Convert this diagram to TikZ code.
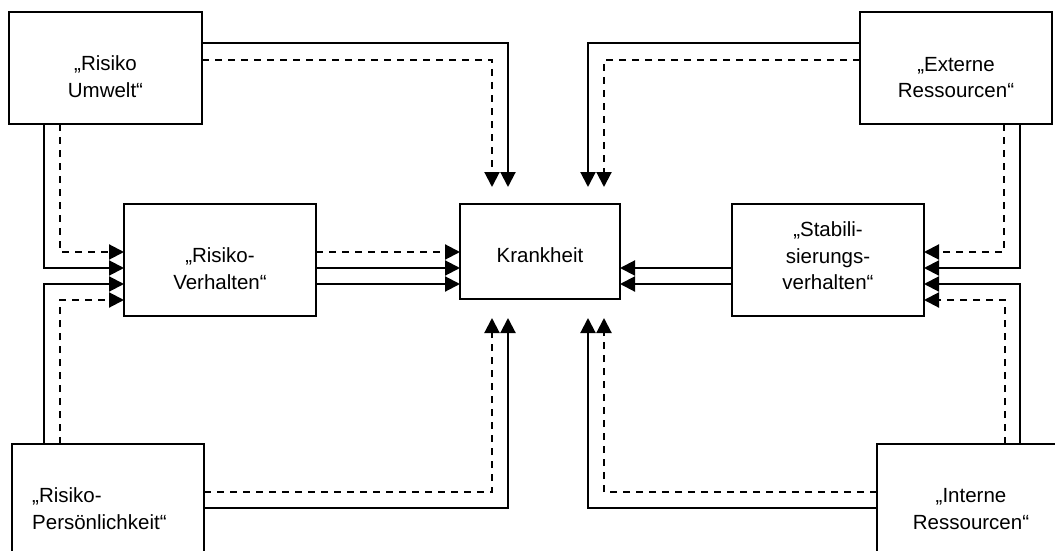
\documentclass[tikz,border=0pt]{standalone}
\usepackage{fontspec}
\setmainfont{Liberation Sans}
\usetikzlibrary{arrows.meta,calc}
\begin{document}
\begin{tikzpicture}[x=1pt,y=-1pt,
  box/.style={draw, line width=2.1pt, inner sep=0pt, outer sep=0pt},
  lbl/.style={font=\fontsize{20.5}{26.5}\selectfont, align=center, inner sep=0pt},
  conn/.style={line width=2.1pt, -{Triangle[length=15pt,width=15pt]}},
  dashconn/.style={conn, dash pattern=on 7pt off 6pt}]
\useasboundingbox (0,0) rectangle (1055,551);
\fill[white] (0,0) rectangle (1055,551);
\clip (0,0) rectangle (1055,551);
% boxes
\node[box, minimum width=193pt, minimum height=112pt] (U)  at (105.5,68) {};
\node[box, minimum width=192pt, minimum height=112pt] (E)  at (956,68) {};
\node[box, minimum width=192pt, minimum height=112pt] (RV) at (220,260) {};
\node[box, minimum width=160pt, minimum height=95pt]  (K)  at (540,251.5) {};
\node[box, minimum width=192pt, minimum height=112pt] (S)  at (828,260) {};
\node[box, minimum width=192pt, minimum height=112pt] (P)  at (108,500) {};
\node[box, minimum width=192pt, minimum height=112pt] (I)  at (973,500) {};
% labels
\node[lbl] (Ut) at ([yshift=-8.9pt]U.center) {„Risiko\\Umwelt“};
\node[lbl] (Et) at ([yshift=-9.6pt]E.center) {„Externe\\Ressourcen“};
\node[lbl] (RVt) at ([yshift=-8.9pt]RV.center) {„Risiko-\\Verhalten“};
\node[lbl] (Kt) at ([yshift=-4.1pt]K.center) {Krankheit};
\node[lbl] (St) at ([yshift=4.1pt]S.center) {„Stabili-\\sierungs-\\verhalten“};
\node[lbl, align=left, anchor=west] (Pt) at ([xshift=20pt,yshift=-8.9pt]P.west) {„Risiko-\\Persönlichkeit“};
\node[lbl] (It) at ([xshift=-2pt,yshift=-8.9pt]I.center) {„Interne\\Ressourcen“};
% arrow end points near Krankheit
\coordinate (kn1) at (492,187);
\coordinate (kn2) at (508,187);
\coordinate (kn3) at (588,187);
\coordinate (kn4) at (604,187);
\coordinate (ks1) at (492,318);
\coordinate (ks2) at (508,318);
\coordinate (ks3) at (588,318);
\coordinate (ks4) at (604,318);
% helper coordinates
\coordinate (rv1) at ([yshift=8pt]RV.east);
\coordinate (rv2) at ([yshift=-8pt]RV.east);
\coordinate (rv3) at ([yshift=-24pt]RV.east);
\coordinate (s1) at ([yshift=-8pt]S.west);
\coordinate (s2) at ([yshift=-24pt]S.west);
% Umwelt -> Krankheit
\draw[conn] ([yshift=25pt]U.east) -| (kn2);
\draw[dashconn] ([yshift=8pt]U.east) -| (kn1);
% Externe -> Krankheit
\draw[conn] ([yshift=25pt]E.west) -| (kn3);
\draw[dashconn] ([yshift=8pt]E.west) -| (kn4);
% Umwelt -> Risiko-Verhalten
\draw[conn] ([xshift=-61.5pt]U.south) |- ([yshift=-8pt]RV.west);
\draw[dashconn] ([xshift=-45.5pt]U.south) |- ([yshift=8pt]RV.west);
% Persoenlichkeit -> Risiko-Verhalten
\draw[conn] ([xshift=-64pt]P.north) |- ([yshift=-24pt]RV.west);
\draw[dashconn] ([xshift=-48pt]P.north) |- ([yshift=-40pt]RV.west);
% Risiko-Verhalten -> Krankheit
\draw[dashconn] (rv1) -- (rv1 -| K.west);
\draw[conn] (rv2) -- (rv2 -| K.west);
\draw[conn] (rv3) -- (rv3 -| K.west);
% Stabilisierung -> Krankheit
\draw[conn] (s1) -- (s1 -| K.east);
\draw[conn] (s2) -- (s2 -| K.east);
% Externe -> Stabilisierung
\draw[dashconn] ([xshift=48pt]E.south) |- ([yshift=8pt]S.east);
\draw[conn] ([xshift=64pt]E.south) |- ([yshift=-8pt]S.east);
% Interne -> Stabilisierung
\draw[conn] ([xshift=47pt]I.north) |- ([yshift=-24pt]S.east);
\draw[dashconn] ([xshift=32pt]I.north) |- ([yshift=-40pt]S.east);
% Persoenlichkeit -> Krankheit
\draw[dashconn] ([yshift=8pt]P.east) -| (ks1);
\draw[conn] ([yshift=-8pt]P.east) -| (ks2);
% Interne -> Krankheit
\draw[dashconn] ([yshift=8pt]I.west) -| (ks4);
\draw[conn] ([yshift=-8pt]I.west) -| (ks3);
\end{tikzpicture}
\end{document}
